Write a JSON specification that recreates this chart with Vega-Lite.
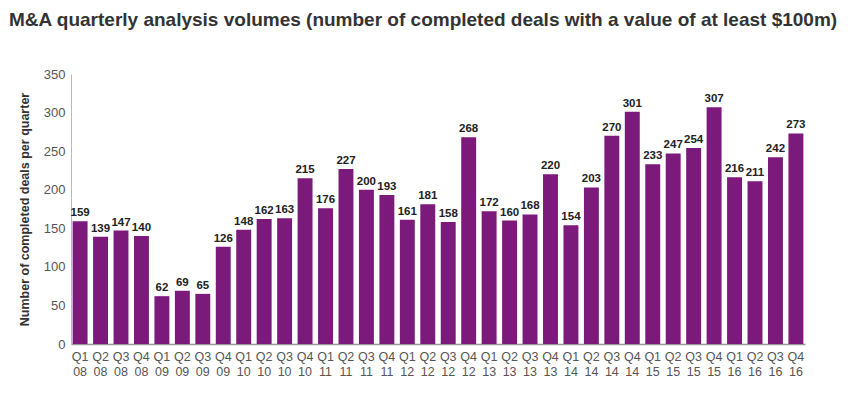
{
  "$schema": "https://vega.github.io/schema/vega-lite/v6.json",
  "width": 734,
  "height": 270,
  "autosize": {"type": "none"},
  "padding": {"left": 71, "top": 74, "right": 43, "bottom": 49},
  "background": "white",
  "title": {
    "text": "M&A quarterly analysis volumes (number of completed deals with a value of at least $100m)",
    "anchor": "start",
    "frame": "group",
    "dx": -62,
    "offset": 38,
    "font": "Liberation Sans",
    "fontSize": 19,
    "fontWeight": "bold",
    "color": "#333333"
  },
  "config": {
    "view": {"stroke": null},
    "font": "Liberation Sans"
  },
  "data": {
    "values": [
      {"q": "Q1 08", "v": 159}, {"q": "Q2 08", "v": 139}, {"q": "Q3 08", "v": 147}, {"q": "Q4 08", "v": 140},
      {"q": "Q1 09", "v": 62}, {"q": "Q2 09", "v": 69}, {"q": "Q3 09", "v": 65}, {"q": "Q4 09", "v": 126},
      {"q": "Q1 10", "v": 148}, {"q": "Q2 10", "v": 162}, {"q": "Q3 10", "v": 163}, {"q": "Q4 10", "v": 215},
      {"q": "Q1 11", "v": 176}, {"q": "Q2 11", "v": 227}, {"q": "Q3 11", "v": 200}, {"q": "Q4 11", "v": 193},
      {"q": "Q1 12", "v": 161}, {"q": "Q2 12", "v": 181}, {"q": "Q3 12", "v": 158}, {"q": "Q4 12", "v": 268},
      {"q": "Q1 13", "v": 172}, {"q": "Q2 13", "v": 160}, {"q": "Q3 13", "v": 168}, {"q": "Q4 13", "v": 220},
      {"q": "Q1 14", "v": 154}, {"q": "Q2 14", "v": 203}, {"q": "Q3 14", "v": 270}, {"q": "Q4 14", "v": 301},
      {"q": "Q1 15", "v": 233}, {"q": "Q2 15", "v": 247}, {"q": "Q3 15", "v": 254}, {"q": "Q4 15", "v": 307},
      {"q": "Q1 16", "v": 216}, {"q": "Q2 16", "v": 211}, {"q": "Q3 16", "v": 242}, {"q": "Q4 16", "v": 273}
    ]
  },
  "encoding": {
    "x": {
      "field": "q",
      "type": "nominal",
      "sort": null,
      "scale": {"paddingInner": 0.27, "paddingOuter": 0.08},
      "axis": {
        "title": null,
        "labelAngle": 0,
        "labelExpr": "split(datum.label, ' ')",
        "labelFontSize": 12.5,
        "labelColor": "#555555",
        "labelLineHeight": 15,
        "labelPadding": 6,
        "ticks": false,
        "domainColor": "#999999",
        "domainWidth": 1.5
      }
    },
    "y": {
      "field": "v",
      "type": "quantitative",
      "scale": {"domain": [0, 350], "nice": false},
      "axis": {
        "title": "Number of completed deals per quarter",
        "titleFontSize": 12.5,
        "titleFontWeight": "bold",
        "titleColor": "#333333",
        "titlePadding": 12,
        "values": [0, 50, 100, 150, 200, 250, 300, 350],
        "labelFontSize": 13,
        "labelColor": "#555555",
        "labelPadding": 6,
        "ticks": false,
        "grid": false,
        "domainColor": "#bbbbbb",
        "domainWidth": 1
      }
    }
  },
  "layer": [
    {"mark": {"type": "bar", "color": "#7B1A7A"}},
    {
      "mark": {"type": "text", "dy": -8, "fontWeight": "bold", "fontSize": 11.5, "color": "#222222"},
      "encoding": {"text": {"field": "v", "type": "quantitative"}}
    }
  ]
}
